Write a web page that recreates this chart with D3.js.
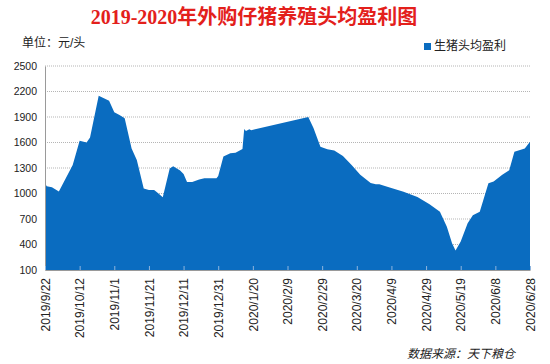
<!DOCTYPE html>
<html>
<head>
<meta charset="utf-8">
<script src="https://cdn.jsdelivr.net/npm/d3@7"></script>
<style>
  body { margin: 0; background: #fff; }
  text { font-family: "Liberation Sans", "Noto Sans CJK SC", sans-serif; }
</style>
</head>
<body>
<script>
// dates of each reading and profit per pig (yuan/head)
var dates = [
  "2019-09-22", "2019-09-23", "2019-09-26", "2019-09-30", "2019-10-08", "2019-10-12",
  "2019-10-16", "2019-10-18", "2019-10-23", "2019-10-26", "2019-10-29", "2019-11-01",
  "2019-11-04", "2019-11-07", "2019-11-11", "2019-11-14", "2019-11-18", "2019-11-21",
  "2019-11-24", "2019-11-26", "2019-11-29", "2019-12-03", "2019-12-05", "2019-12-09",
  "2019-12-11", "2019-12-13", "2019-12-16", "2019-12-20", "2019-12-23", "2019-12-30",
  "2019-12-31", "2020-01-03", "2020-01-07", "2020-01-10", "2020-01-14", "2020-01-15",
  "2020-01-16", "2020-01-18", "2020-01-19", "2020-02-21", "2020-02-24", "2020-02-28",
  "2020-03-03", "2020-03-07", "2020-03-12", "2020-03-17", "2020-03-22", "2020-03-28",
  "2020-03-31", "2020-04-02", "2020-04-08", "2020-04-16", "2020-04-24", "2020-05-01",
  "2020-05-07", "2020-05-11", "2020-05-14", "2020-05-16", "2020-05-19", "2020-05-23",
  "2020-05-26", "2020-05-30", "2020-06-04", "2020-06-07", "2020-06-12", "2020-06-16",
  "2020-06-19", "2020-06-25", "2020-06-28"
];
var profit = [
  1120, 1085, 1075, 1025, 1335, 1620,
  1600, 1660, 2150, 2120, 2090, 1955,
  1925, 1885, 1530, 1395, 1060, 1040,
  1040, 1010, 955, 1295, 1320, 1270,
  1230, 1135, 1135, 1165, 1180, 1180,
  1205, 1435, 1475, 1480, 1525, 1760,
  1735, 1755, 1745, 1900, 1770, 1550,
  1520, 1505, 1440, 1335, 1220, 1125,
  1110, 1110, 1070, 1020, 960, 875,
  785, 610, 415, 330, 435, 650,
  745, 785, 1120, 1140, 1220, 1275,
  1490, 1530, 1610
];

// x tick labels every 20 days
var tickLabels = [
  "2019/9/22", "2019/10/12", "2019/11/1", "2019/11/21", "2019/12/11", "2019/12/31",
  "2020/1/20", "2020/2/9", "2020/2/29", "2020/3/20", "2020/4/9", "2020/4/29",
  "2020/5/19", "2020/6/8", "2020/6/28"
];
var yTicks = [100, 400, 700, 1000, 1300, 1600, 1900, 2200, 2500];

var svgWidth = 550;
var svgHeight = 364;

var margin = { top: 66, right: 20, bottom: 94, left: 45 };
var width = 530 - margin.left;
var height = 270 - margin.top;

var parseDate = d3.timeParse("%Y-%m-%d");
var parseTick = d3.timeParse("%Y/%m/%d");

var data = dates.map(function(d, i) {
  return { date: parseDate(d), value: profit[i] };
});

var svg = d3.select("body")
  .append("svg")
  .attr("width", svgWidth)
  .attr("height", svgHeight);

// title
svg.append("text")
  .attr("x", 254)
  .attr("y", 24)
  .attr("text-anchor", "middle")
  .attr("fill", "#e3201b")
  .attr("font-size", "20px")
  .attr("font-weight", "bold")
  .style("font-family", "'Liberation Serif', 'Noto Sans CJK SC', serif")
  .text("2019-2020年外购仔猪养殖头均盈利图");

// unit label
svg.append("text")
  .attr("x", 22)
  .attr("y", 47)
  .attr("fill", "#222")
  .attr("font-size", "12px")
  .text("单位：元/头");

// legend
svg.append("rect")
  .attr("x", 424)
  .attr("y", 43)
  .attr("width", 7)
  .attr("height", 7)
  .attr("fill", "#0a6cc0");

svg.append("text")
  .attr("x", 434)
  .attr("y", 50)
  .attr("fill", "#222")
  .attr("font-size", "12px")
  .text("生猪头均盈利");

var chartGroup = svg.append("g")
  .attr("transform", `translate(${margin.left}, ${margin.top})`);

var xScale = d3.scaleTime()
  .domain([parseDate("2019-09-22"), parseDate("2020-06-28")])
  .range([0, width]);

var yScale = d3.scaleLinear()
  .domain([100, 2500])
  .range([height, 0]);

// dotted grid lines
chartGroup.append("g")
  .selectAll("line")
  .data(yTicks.slice(1))
  .enter()
  .append("line")
  .attr("x1", 0)
  .attr("x2", width)
  .attr("y1", d => yScale(d))
  .attr("y2", d => yScale(d))
  .attr("stroke", "#b5b5b5")
  .attr("stroke-dasharray", "1,1");

// filled area
var area = d3.area()
  .x(d => xScale(d.date))
  .y0(height)
  .y1(d => yScale(d.value));

chartGroup.append("path")
  .datum(data)
  .attr("d", area)
  .attr("fill", "#0a6cc0");

// y axis
var leftAxis = d3.axisLeft(yScale)
  .tickValues(yTicks)
  .tickFormat(d3.format("d"))
  .tickSize(0)
  .tickPadding(8);

var yAxis = chartGroup.append("g")
  .call(leftAxis);

yAxis.select(".domain").attr("stroke", "#9a9a9a");
yAxis.selectAll("text")
  .attr("font-size", "10.5px")
  .attr("fill", "#222")
  .style("font-family", "'Liberation Sans', sans-serif");

// x axis with inner tick marks and rotated labels
var bottomAxis = d3.axisBottom(xScale)
  .tickValues(tickLabels.map(d => parseTick(d)))
  .tickFormat((d, i) => tickLabels[i])
  .tickSizeInner(-4)
  .tickSizeOuter(0)
  .tickPadding(8);

var xAxis = chartGroup.append("g")
  .attr("transform", `translate(0, ${height})`)
  .call(bottomAxis);

xAxis.select(".domain").attr("stroke", "#9a9a9a");
xAxis.selectAll(".tick line").attr("stroke", "#8fb5de");
xAxis.selectAll("text")
  .attr("font-size", "12px")
  .attr("fill", "#222")
  .style("font-family", "'Liberation Sans', sans-serif")
  .attr("text-anchor", "end")
  .attr("transform", "rotate(-90)")
  .attr("x", -8)
  .attr("y", 0)
  .attr("dy", "0.35em");

// source note
svg.append("text")
  .attr("x", 515)
  .attr("y", 358)
  .attr("text-anchor", "end")
  .attr("fill", "#222")
  .attr("font-size", "12px")
  .attr("font-style", "italic")
  .text("数据来源：天下粮仓");
</script>
</body>
</html>
